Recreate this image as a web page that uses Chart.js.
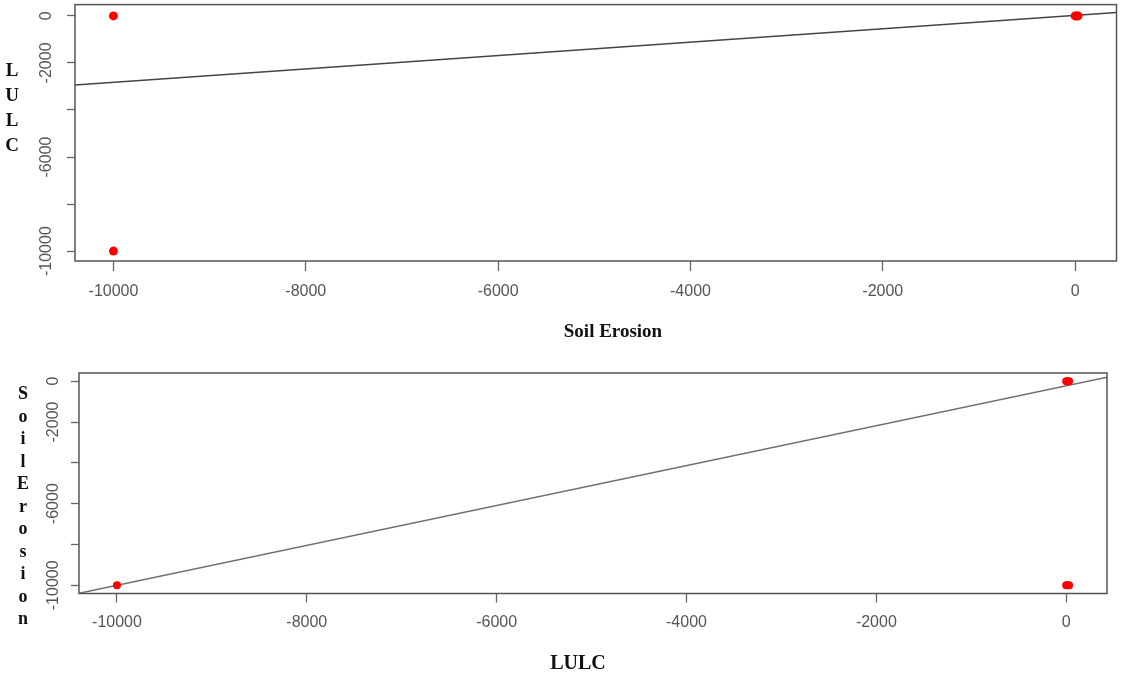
<!DOCTYPE html>
<html><head><meta charset="utf-8">
<script src="https://cdn.jsdelivr.net/npm/chart.js@4.4.0/dist/chart.umd.min.js"></script>
<style>
html,body{margin:0;padding:0;background:#fff;width:1121px;height:675px;overflow:hidden;position:relative}
.box{position:absolute;left:0;width:1121px}
.t{position:absolute;font-family:"Liberation Serif","Times New Roman",serif;font-weight:bold;color:#111;white-space:nowrap}
.v{text-align:center;width:20px}
.v span{display:block}
</style></head><body>
<div class="box" style="top:0;height:310px"><canvas id="c1" width="1121" height="310"></canvas></div>
<div class="box" style="top:340px;height:335px"><canvas id="c2" width="1121" height="335"></canvas></div>
<div class="t" style="left:513px;width:200px;text-align:center;top:321px;font-size:19px;line-height:20px">Soil Erosion</div>
<div class="t" style="left:478px;width:200px;text-align:center;top:652px;font-size:20px;line-height:20px">LULC</div>
<div class="t v" style="left:2px;top:57px;font-size:19px;line-height:25px"><span>L</span><span>U</span><span>L</span><span>C</span></div>
<div class="t v" style="left:13px;top:382px;font-size:18px;line-height:22.5px"><span>S</span><span>o</span><span>i</span><span>l</span><span>E</span><span>r</span><span>o</span><span>s</span><span>i</span><span>o</span><span>n</span></div>
<script>
// ---- Data ----
// Top panel: x = Soil Erosion, y = LULC
const topSoilErosion = [-10000, -10000, 0, 15, 30];
const topLULC        = [0, -10000, 0, 0, 0];
const topFitX = [-10400, 430];
const topFitY = [-2937, 146];

// Bottom panel: x = LULC, y = Soil Erosion
const botLULC        = [-10000, 0, 15, 30, 0, 15, 30];
const botSoilErosion = [-10000, 0, 0, 0, -10000, -10000, -10000];
const botFitX = [-10400, 430];
const botFitY = [-10390, 196];

// Tick values and labels
const xTicks = [-10000, -8000, -6000, -4000, -2000, 0];
const xTickLabels = ['-10000', '-8000', '-6000', '-4000', '-2000', '0'];
const yTicks = [-10000, -8000, -6000, -4000, -2000, 0];
const yTickLabels = ['-10000', '', '-6000', '', '-2000', '0'];

const boxPlugin = {
  id: 'box',
  afterDatasetsDraw(chart) {
    const {ctx, chartArea: a} = chart;
    ctx.save();
    ctx.strokeStyle = '#555';
    ctx.lineWidth = 1.5;
    ctx.strokeRect(a.left, a.top, a.right - a.left, a.bottom - a.top);
    ctx.restore();
  }
};

function makeChart(id, px, py, fx, fy, cfg) {
  const pts = px.map((x, i) => ({x: x, y: py[i]}));
  const fit = fx.map((x, i) => ({x: x, y: fy[i]}));
  return new Chart(document.getElementById(id), {
    type: 'scatter',
    data: {
      datasets: [
        {type: 'line', data: fit, showLine: true, borderColor: cfg.lineColor, borderWidth: 1.4,
         pointRadius: 0, fill: false, order: 1},
        {data: pts, backgroundColor: '#ff0000', borderWidth: 0, pointRadius: cfg.r, order: 0}
      ]
    },
    options: {
      responsive: false,
      animation: false,
      events: [],
      layout: {padding: cfg.pad},
      plugins: {legend: {display: false}, tooltip: {enabled: false}},
      scales: {
        x: {
          type: 'linear', bounds: 'data', min: cfg.xmin, max: cfg.xmax,
          afterBuildTicks: s => { s.ticks = xTicks.map(v => ({value: v})); },
          afterFit: s => { s.height = cfg.xh; },
          grid: {drawOnChartArea: false, drawTicks: true, tickLength: cfg.tl, color: '#666', tickWidth: 1.3},
          border: {display: false},
          ticks: {color: '#555', font: {family: '"Liberation Sans", Arial, sans-serif', size: 16},
                  padding: cfg.xpad, maxRotation: 0, autoSkip: false,
                  callback: v => xTickLabels[xTicks.indexOf(v)]}
        },
        y: {
          type: 'linear', bounds: 'data', min: cfg.ymin, max: cfg.ymax,
          afterBuildTicks: s => { s.ticks = yTicks.map(v => ({value: v})); },
          afterFit: s => { s.width = cfg.yw; },
          grid: {drawOnChartArea: false, drawTicks: true, tickLength: 8, color: '#666', tickWidth: 1.3},
          border: {display: false},
          ticks: {color: '#555', font: {family: '"Liberation Sans", Arial, sans-serif', size: 16},
                  minRotation: 90, maxRotation: 90, crossAlign: 'center', padding: cfg.ypad, autoSkip: false,
                  callback: v => yTickLabels[yTicks.indexOf(v)]}
        }
      }
    },
    plugins: [boxPlugin]
  });
}

makeChart('c1', topSoilErosion, topLULC, topFitX, topFitY, {
  lineColor: '#444', r: 4.5,
  pad: {left: 0, right: 4, top: 4, bottom: 0},
  xmin: -10400, xmax: 430, ymin: -10420, ymax: 480,
  xh: 49, yw: 75, tl: 10, xpad: 11, ypad: -5
});
makeChart('c2', botLULC, botSoilErosion, botFitX, botFitY, {
  lineColor: '#707070', r: 4,
  pad: {left: 0, right: 14, top: 33, bottom: 0},
  xmin: -10400, xmax: 430, ymin: -10400, ymax: 400,
  xh: 81.5, yw: 79, tl: 9, xpad: 10, ypad: -8
});
</script>
</body></html>
